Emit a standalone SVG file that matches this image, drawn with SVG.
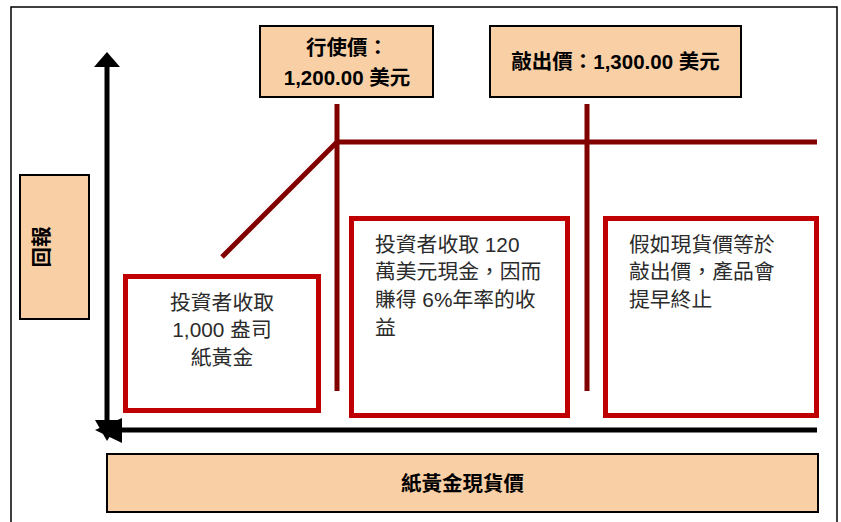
<svg xmlns="http://www.w3.org/2000/svg" width="841" height="522" viewBox="0 0 841 522">
<style>
.lbl{fill:#F9D0A6;stroke:#000;stroke-width:2}
.rbox{fill:#fff;stroke:#C00000;stroke-width:5}
.hd{font-family:"Liberation Sans","Noto Sans CJK TC",sans-serif;font-weight:bold;font-size:20.5px;fill:#000;text-anchor:middle}
.bt{font-family:"Liberation Sans","Noto Sans CJK TC",sans-serif;font-size:20.8px;fill:#2b2b2b}
.red{stroke:#800000;stroke-width:5;fill:none}
.ax{stroke:#000;stroke-width:5;fill:none}
</style>
<rect x="0" y="0" width="841" height="522" fill="#fff"/>
<rect x="11" y="7" width="826" height="530" fill="none" stroke="#000" stroke-width="1.5"/>
<g id="connectors">
<line class="ax" x1="107" y1="64" x2="107" y2="425"/>
<polygon points="107,52 94,67 120,67" fill="#000"/>
<polygon points="95,420 120,420 107,441" fill="#000"/>
<line class="ax" x1="118" y1="430" x2="817" y2="430"/>
<polygon points="95,430 122,418 122,443" fill="#000"/>
<line class="red" x1="337" y1="104" x2="337" y2="391"/>
<line class="red" x1="587" y1="104" x2="587" y2="391"/>
<line class="red" x1="337" y1="142" x2="817" y2="142"/>
<line class="red" x1="222" y1="257" x2="338" y2="141"/>
</g>
<g id="y-label">
<rect class="lbl" x="20" y="175" width="69" height="144"/>
<text class="hd" transform="translate(42,247) rotate(-90)" y="7">回報</text>
</g>
<g id="strike">
<rect class="lbl" x="260" y="26" width="173" height="71"/>
<text class="hd" x="347" y="55">行使價：</text>
<text class="hd" x="347" y="85">1,200.00 美元</text>
</g>
<g id="knockout">
<rect class="lbl" x="490" y="26" width="251" height="71"/>
<text class="hd" x="615.5" y="69">敲出價：1,300.00 美元</text>
</g>
<g id="box1">
<rect class="rbox" x="125.5" y="276.5" width="193" height="134"/>
<text class="bt" text-anchor="middle" x="222" y="310">投資者收取</text>
<text class="bt" text-anchor="middle" x="222" y="337">1,000 盎司</text>
<text class="bt" text-anchor="middle" x="222" y="365">紙黃金</text>
</g>
<g id="box2">
<rect class="rbox" x="351.5" y="218.5" width="216" height="197"/>
<text class="bt" x="375" y="252">投資者收取 120</text>
<text class="bt" x="375" y="279">萬美元現金，因而</text>
<text class="bt" x="375" y="307">賺得 6%年率的收</text>
<text class="bt" x="375" y="335">益</text>
</g>
<g id="box3">
<rect class="rbox" x="605.5" y="218.5" width="211" height="197"/>
<text class="bt" x="629" y="252">假如現貨價等於</text>
<text class="bt" x="629" y="279">敲出價，產品會</text>
<text class="bt" x="629" y="307">提早終止</text>
</g>
<g id="x-label">
<rect class="lbl" x="107" y="454" width="711" height="58"/>
<text class="hd" x="462.5" y="491">紙黃金現貨價</text>
</g>
</svg>
